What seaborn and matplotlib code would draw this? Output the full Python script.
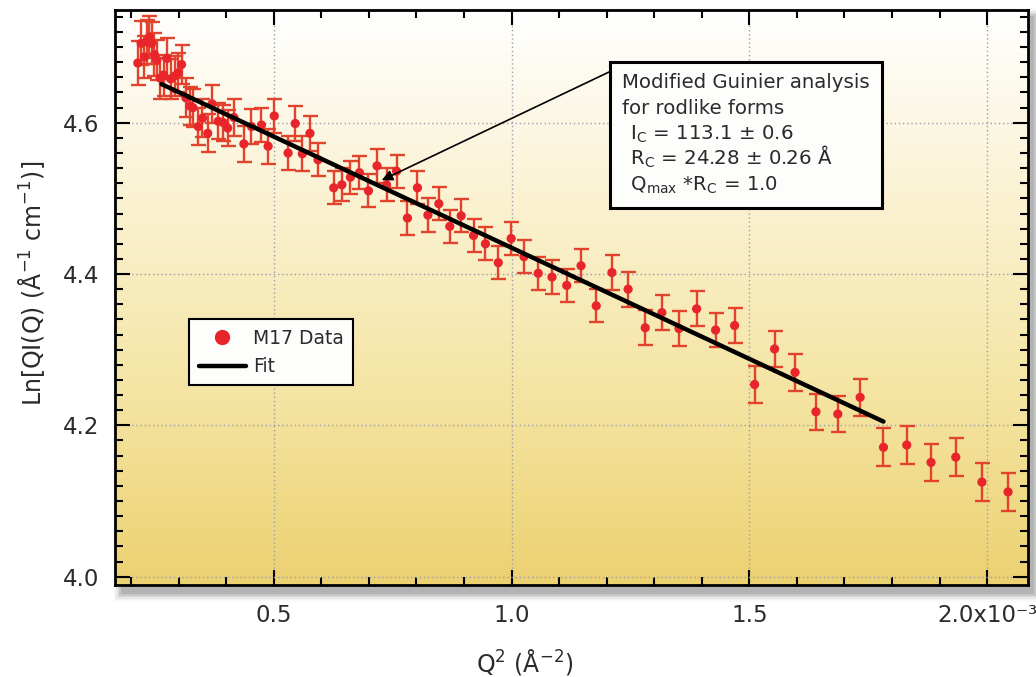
import matplotlib
matplotlib.use("Agg")
import numpy as np
import matplotlib.pyplot as plt
import seaborn as sns
from matplotlib.colors import LinearSegmentedColormap
from matplotlib.patches import Rectangle
from matplotlib.lines import Line2D
from matplotlib.ticker import MultipleLocator, FixedLocator, FixedFormatter

# Q^2 in units of 1e-3 A^-2
q2 = [0.214, 0.221, 0.228, 0.233, 0.238, 0.243, 0.249, 0.254, 0.261, 0.268,
      0.275, 0.283, 0.292, 0.299, 0.306, 0.315, 0.324, 0.330, 0.341, 0.350,
      0.361, 0.370, 0.383, 0.394, 0.403, 0.416, 0.437, 0.453, 0.474, 0.488,
      0.501, 0.530, 0.545, 0.560, 0.576, 0.593, 0.626, 0.643, 0.661, 0.680,
      0.699, 0.717, 0.737, 0.758, 0.781, 0.802, 0.824, 0.847, 0.870, 0.894,
      0.920, 0.945, 0.972, 0.999, 1.026, 1.056, 1.085, 1.116, 1.146, 1.178,
      1.211, 1.245, 1.281, 1.316, 1.352, 1.389, 1.429, 1.469, 1.511, 1.553,
      1.596, 1.640, 1.686, 1.733, 1.782, 1.831, 1.882, 1.934, 1.989, 2.044]

ln_qi = [4.679, 4.705, 4.687, 4.707, 4.713, 4.705, 4.690, 4.683, 4.659, 4.663,
         4.685, 4.658, 4.662, 4.666, 4.677, 4.633, 4.622, 4.620, 4.595, 4.606,
         4.586, 4.625, 4.602, 4.600, 4.593, 4.607, 4.572, 4.595, 4.597, 4.569,
         4.609, 4.560, 4.599, 4.559, 4.586, 4.551, 4.514, 4.518, 4.528, 4.534,
         4.510, 4.543, 4.518, 4.536, 4.474, 4.514, 4.478, 4.493, 4.463, 4.477,
         4.451, 4.440, 4.415, 4.447, 4.423, 4.401, 4.396, 4.385, 4.411, 4.358,
         4.402, 4.380, 4.329, 4.349, 4.328, 4.354, 4.326, 4.332, 4.254, 4.301,
         4.270, 4.218, 4.215, 4.237, 4.171, 4.174, 4.151, 4.158, 4.125, 4.112]

ln_err = [0.029, 0.029, 0.028, 0.029, 0.028, 0.028, 0.028, 0.027, 0.027, 0.027,
          0.027, 0.026, 0.026, 0.026, 0.026, 0.026, 0.025, 0.025, 0.025, 0.025,
          0.025, 0.025, 0.024, 0.024, 0.024, 0.024, 0.024, 0.023, 0.023, 0.023,
          0.023, 0.023, 0.023, 0.023, 0.023, 0.022, 0.022, 0.022, 0.022, 0.022,
          0.022, 0.022, 0.022, 0.022, 0.022, 0.022, 0.022, 0.022, 0.022, 0.022,
          0.022, 0.022, 0.022, 0.022, 0.022, 0.022, 0.022, 0.022, 0.022, 0.022,
          0.023, 0.023, 0.023, 0.023, 0.023, 0.023, 0.023, 0.023, 0.024, 0.024,
          0.024, 0.024, 0.024, 0.024, 0.025, 0.025, 0.025, 0.025, 0.025, 0.025]

fit_q2 = [0.264, 1.782]
fit_ln = [4.651, 4.205]

x_ticks = [0.5, 1.0, 1.5, 2.0]
x_tick_labels = ["0.5", "1.0", "1.5", "2.0x10\u207b\u00b3"]
y_ticks = [4.0, 4.2, 4.4, 4.6]
y_tick_labels = ["4.0", "4.2", "4.4", "4.6"]

box_lines = ["Modified Guinier analysis",
             "for rodlike forms",
             r" I$_\mathrm{C}$ = 113.1 $\pm$ 0.6",
             r" R$_\mathrm{C}$ = 24.28 $\pm$ 0.26 Å",
             r" Q$_\mathrm{max}$ *R$_\mathrm{C}$ = 1.0"]

red = "#e8252b"
err_red = "#e2432c"
text_col = "#2b2b2b"

sns.set_theme(style="ticks")
plt.rcParams["font.family"] = ["DejaVu Sans"]
plt.rcParams["mathtext.fontset"] = "dejavusans"

fig = plt.figure(figsize=(10.36, 6.77), dpi=100)
fig.patch.set_facecolor("white")

# soft drop shadow behind the plot frame
W, H = 1036.0, 677.0
for k, a in enumerate([0.10, 0.08, 0.06, 0.045, 0.03, 0.02]):
    g = k * 1.6
    x0, x1 = 121 - g, 1034 + g
    y0, y1 = 16 - g, 594 + g
    fig.add_artist(Rectangle((x0 / W, 1 - y1 / H), (x1 - x0) / W, (y1 - y0) / H,
                             transform=fig.transFigure, facecolor="black",
                             edgecolor="none", alpha=a, zorder=-2))

ax = fig.add_axes([0.1110, 0.1359, 0.8813, 0.8493])
ax.set_facecolor("none")

xlim = (0.166, 2.086)
ylim = (3.989, 4.749)

# vertical gradient: white at top to golden yellow at the bottom
cmap = LinearSegmentedColormap.from_list(
    "bg", [(0.0, "#ecd171"), (0.3, "#f4e39e"), (0.65, "#faf1cf"), (1.0, "#ffffff")])
grad = np.linspace(0, 1, 256).reshape(-1, 1)
ax.imshow(grad, extent=[xlim[0], xlim[1], ylim[0], ylim[1]], origin="lower",
          aspect="auto", cmap=cmap, zorder=0, interpolation="bicubic")

ax.errorbar(q2, ln_qi, yerr=ln_err, fmt="none", ecolor=err_red, elinewidth=1.7,
            capsize=5.4, capthick=1.7, zorder=3)
sns.scatterplot(x=q2, y=ln_qi, color=red, s=44, edgecolor="none", zorder=4, ax=ax)
sns.lineplot(x=fit_q2, y=fit_ln, color="black", linewidth=3.2, sort=False,
             zorder=5, ax=ax)

ax.set_xlim(*xlim)
ax.set_ylim(*ylim)

ax.xaxis.set_major_locator(FixedLocator(x_ticks))
ax.xaxis.set_major_formatter(FixedFormatter(x_tick_labels))
ax.xaxis.set_minor_locator(MultipleLocator(0.1))
ax.yaxis.set_major_locator(FixedLocator(y_ticks))
ax.yaxis.set_major_formatter(FixedFormatter(y_tick_labels))
ax.yaxis.set_minor_locator(MultipleLocator(0.02))

ax.tick_params(which="both", direction="in", top=True, right=True,
               color="black", width=1.5, labelcolor=text_col, labelsize=16.5)
ax.tick_params(which="major", length=11)
ax.tick_params(which="minor", length=5.5)
ax.tick_params(axis="x", pad=14)
ax.tick_params(axis="y", pad=11)
for sp in ax.spines.values():
    sp.set_linewidth(2)
    sp.set_color("black")
    sp.set_zorder(6)

ax.grid(which="major", color="#9c9cae", linestyle=(0, (1, 2)), linewidth=1.0)
ax.set_axisbelow(True)

ax.set_xlabel(r"Q$^2$ (Å$^{-2}$)", fontsize=17, color=text_col)
ax.set_ylabel(r"Ln[QI(Q) (Å$^{-1}$ cm$^{-1}$)]", fontsize=17, color=text_col)
ax.xaxis.set_label_coords(0.449, -0.108)
ax.yaxis.set_label_coords(-0.074, 0.525)

# legend
handles = [Line2D([], [], marker="o", color=red, linestyle="none", markersize=10),
           Line2D([], [], color="black", linewidth=3.2)]
leg = ax.legend(handles, ["M17 Data", "Fit"], loc="upper left",
                bbox_to_anchor=(0.0814, 0.462), borderaxespad=0, fontsize=13.5,
                handlelength=2.5, handletextpad=0.4, labelspacing=0.5,
                fancybox=False, framealpha=1, edgecolor="black", borderpad=0.5)
leg.get_frame().set_linewidth(1.5)
leg.get_frame().set_facecolor("#fdfdfb")
for t in leg.get_texts():
    t.set_color(text_col)
leg.set_zorder(7)

# annotation box
ax.add_patch(Rectangle((0.5422, 0.6551), 0.2976, 0.2550, transform=ax.transAxes,
                       facecolor="#fdfdfb", edgecolor="black", linewidth=2.2,
                       zorder=7))
box_x = [0.555, 0.555, 0.557, 0.557, 0.557]
box_y = [0.8643, 0.8191, 0.7748, 0.7304, 0.6861]
for s, bx, by in zip(box_lines, box_x, box_y):
    ax.text(bx, by, s, transform=ax.transAxes, fontsize=14.2, color=text_col,
            ha="left", va="baseline", zorder=8)

ax.annotate("", xy=(0.727, 4.524), xytext=(1.208, 4.668),
            arrowprops=dict(arrowstyle="-|>", color="black", lw=1.2,
                            mutation_scale=16, shrinkA=0, shrinkB=0),
            zorder=6)

fig.savefig("out.png", dpi=100)
